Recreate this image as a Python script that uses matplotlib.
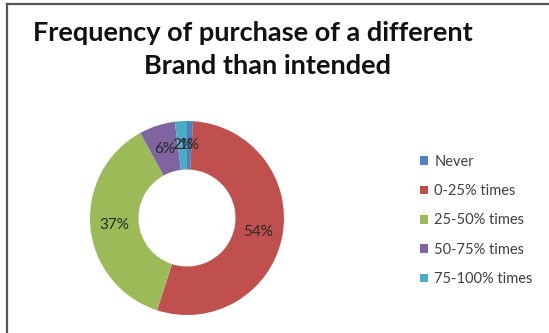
import numpy as np
import matplotlib.pyplot as plt
from matplotlib.lines import Line2D
from matplotlib.patches import Patch

# Share of respondents by how often they bought a brand other than intended
labels = ['Never', '0-25% times', '25-50% times', '50-75% times', '75-100% times']
shares = [1, 54, 37, 6, 2]
colors = ['#4f81bd', '#c0504d', '#9bbb59', '#8064a2', '#4bacc6']

W, H = 549, 333
fig = plt.figure(figsize=(W / 100, H / 100), dpi=100)
fig.patch.set_facecolor('white')

# frame lines along the top and left edge
fig.add_artist(Line2D([7 / W, 1], [1 - 4 / H, 1 - 4 / H], color='#555555', lw=1.6))
fig.add_artist(Line2D([7 / W, 7 / W], [0, 1 - 4 / H], color='#555555', lw=1.6))

fig.text(253 / W, 1 - 33 / H, 'Frequency of purchase of a different',
         ha='center', va='center', fontsize=19.5, fontweight='bold',
         family='Lato', color='#111111')
fig.text(267 / W, 1 - 66 / H, 'Brand than intended',
         ha='center', va='center', fontsize=19.5, fontweight='bold',
         family='Lato', color='#111111')

# donut
cx, cy, r = 187, 218, 97
ax = fig.add_axes([(cx - r) / W, 1 - (cy + r) / H, 2 * r / W, 2 * r / H])
wedges, texts = ax.pie(shares, colors=colors, startangle=90, counterclock=False,
                       radius=1.0, wedgeprops=dict(width=0.5, edgecolor='none'))
ax.set_aspect('equal')
ax.set_xlim(-1, 1)
ax.set_ylim(-1, 1)
ax.axis('off')

start = 90.0
for val in shares:
    mid = np.deg2rad(start - val * 360 / 100 / 2)
    start -= val * 360 / 100
    ax.text(0.75 * np.cos(mid), 0.75 * np.sin(mid), f'{val}%',
            ha='center', va='center', fontsize=11, family='Lato',
            color='#2a2a2a')

handles = [Patch(facecolor=c, edgecolor='none') for c in colors]
fig.legend(handles, labels, loc='upper left', bbox_to_anchor=(414 / W, 1 - 149 / H),
           frameon=False, prop=dict(family='Lato', size=10.5),
           labelcolor='#404040', handlelength=0.55, handleheight=0.55,
           handletextpad=0.45, labelspacing=1.05, borderaxespad=0)

fig.savefig('out.png', dpi=100)
